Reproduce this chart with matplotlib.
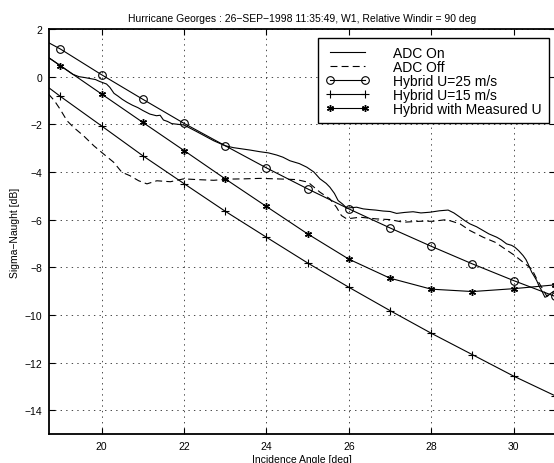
import matplotlib
matplotlib.use("Agg")
import matplotlib.pyplot as plt

plt.rcParams['font.family'] = ['Liberation Sans', 'DejaVu Sans']
plt.rcParams['lines.scale_dashes'] = False

# hybrid model curves, markers at whole degrees (first point is the left edge)
hyb_x = [18.73, 19, 20, 21, 22, 23, 24, 25, 26, 27, 28, 29, 30, 31]
u25_y = [1.41, 1.16, 0.08, -0.95, -1.96, -2.90, -3.83, -4.71, -5.55, -6.35, -7.12, -7.86, -8.56, -9.22]
u15_y = [-0.48, -0.83, -2.07, -3.32, -4.49, -5.65, -6.74, -7.82, -8.84, -9.82, -10.77, -11.67, -12.57, -13.39]
meas_y = [0.78, 0.46, -0.73, -1.92, -3.10, -4.29, -5.45, -6.60, -7.66, -8.46, -8.92, -9.02, -8.90, -8.74]

# measured sigma-0, ADC on
on_x = [18.73, 19.0, 19.3, 19.45, 19.6, 19.72, 19.85, 19.95, 20.12, 20.2, 20.3, 20.4, 20.5,
        20.62, 20.75, 20.88, 21.0, 21.17, 21.33, 21.42, 21.5, 21.6, 21.7, 21.85, 22.0,
        22.3, 22.72, 23.0, 23.2, 23.44, 23.6, 23.84, 24.05, 24.25, 24.4, 24.57, 24.8,
        24.98, 25.15, 25.3, 25.45, 25.54, 25.65, 25.74, 25.85, 25.95, 26.05, 26.19, 26.35,
        26.51, 26.65, 26.83, 27.0, 27.16, 27.35, 27.56, 27.75, 27.97, 28.2, 28.41, 28.55,
        28.7, 28.82, 28.94, 29.1, 29.26, 29.4, 29.59, 29.7, 29.83, 29.95, 30.03, 30.12,
        30.23, 30.3, 30.35, 30.44, 30.5, 30.56, 30.62, 30.68, 30.76, 30.82, 30.88, 30.94, 31.0]
on_y = [0.78, 0.46, 0.10, 0.0, -0.04, -0.08, -0.12, -0.2, -0.31, -0.45, -0.7, -0.82, -0.95,
        -1.08, -1.2, -1.3, -1.42, -1.57, -1.64, -1.62, -1.82, -1.88, -1.97, -2.0, -2.03,
        -2.3, -2.69, -2.9, -2.98, -3.04, -3.08, -3.15, -3.2, -3.29, -3.38, -3.53, -3.65,
        -3.80, -4.0, -4.29, -4.48, -4.64, -4.9, -5.2, -5.35, -5.52, -5.5, -5.48, -5.55,
        -5.58, -5.6, -5.64, -5.66, -5.74, -5.7, -5.67, -5.72, -5.69, -5.63, -5.6, -5.72,
        -5.9, -6.05, -6.18, -6.3, -6.46, -6.6, -6.74, -6.85, -7.02, -7.08, -7.16, -7.3,
        -7.51, -7.68, -7.86, -8.21, -8.38, -8.56, -8.8, -8.98, -9.26, -9.22, -9.12, -9.05, -8.98]

# measured sigma-0, ADC off
off_x = [18.71, 18.85, 18.99, 19.16, 19.32, 19.56, 19.81, 20.05, 20.29, 20.49, 20.69, 20.9,
         21.1, 21.34, 21.67, 21.99, 22.31, 22.72, 23.1, 23.44, 23.84, 24.25, 24.73, 25.01,
         25.3, 25.54, 25.7, 25.82, 25.95, 26.27, 26.67, 27.0, 27.32, 27.73, 28.05, 28.37,
         28.7, 28.94, 29.26, 29.55, 29.79, 30.03, 30.23, 30.44, 30.56, 30.68, 30.8, 31.0]
off_y = [-0.73, -1.0, -1.36, -1.85, -2.13, -2.48, -2.9, -3.25, -3.59, -4.01, -4.16, -4.37,
         -4.5, -4.37, -4.41, -4.29, -4.32, -4.35, -4.3, -4.29, -4.27, -4.29, -4.32, -4.43,
         -4.85, -5.13, -5.48, -5.83, -5.97, -5.9, -5.97, -6.0, -6.11, -6.07, -6.07, -6.0,
         -6.18, -6.46, -6.74, -6.95, -7.23, -7.51, -7.79, -8.07, -8.49, -8.84, -9.2, -9.0]

fig = plt.figure(figsize=(5.54, 4.64), dpi=100)
ax = fig.add_axes([0.089, 0.0625, 0.9125, 0.8728])

mk = range(1, len(hyb_x))
ax.plot(on_x, on_y, '-', color='black', lw=0.8, label='ADC On')
ax.plot(off_x, off_y, color='black', lw=0.8, dashes=(5, 3), label='ADC Off')
ax.plot(hyb_x, u25_y, '-', color='black', lw=0.8, marker='o', ms=5.5, mfc='none',
        mew=0.8, markevery=mk, label='Hybrid U=25 m/s')
ax.plot(hyb_x, u15_y, '-', color='black', lw=0.8, marker='+', ms=6, mew=0.8,
        markevery=mk, label='Hybrid U=15 m/s')
ax.plot(hyb_x, meas_y, '-', color='black', lw=0.8, marker=(6, 2, 0), ms=5, mew=1.0,
        markevery=mk, label='Hybrid with Measured U')

ax.set_xlim(18.73, 31.0)
ax.set_ylim(-15, 2)
ax.set_xticks([20, 22, 24, 26, 28, 30])
ax.set_yticks([-14, -12, -10, -8, -6, -4, -2, 0, 2])
ax.grid(True, which='major', axis='both', color='black', linestyle=(0, (1, 3)), lw=0.5)
ax.tick_params(direction='in', top=True, right=True, length=4, width=0.8, labelsize=7.5,
               pad=5)
for s in ax.spines.values():
    s.set_linewidth(1.3)

ax.set_title('Hurricane Georges : 26\u2212SEP\u22121998 11:35:49, W1, Relative Windir = 90 deg',
             fontsize=7.5, pad=6)
ax.set_xlabel('Incidence Angle [deg]', fontsize=7.5, labelpad=2)
ax.set_ylabel('Sigma\u2212Naught [dB]', fontsize=7.5, labelpad=3)

leg = ax.legend(loc='upper right', bbox_to_anchor=(549.3 / 554, 1 - 39 / 464),
                bbox_transform=fig.transFigure, borderaxespad=0, fontsize=10,
                numpoints=2, handlelength=3.1, handletextpad=1.75, labelspacing=0.0,
                borderpad=0.55, fancybox=False, framealpha=1, edgecolor='black')
leg.get_frame().set_linewidth(1.0)

plt.savefig('out.png', dpi=100)
